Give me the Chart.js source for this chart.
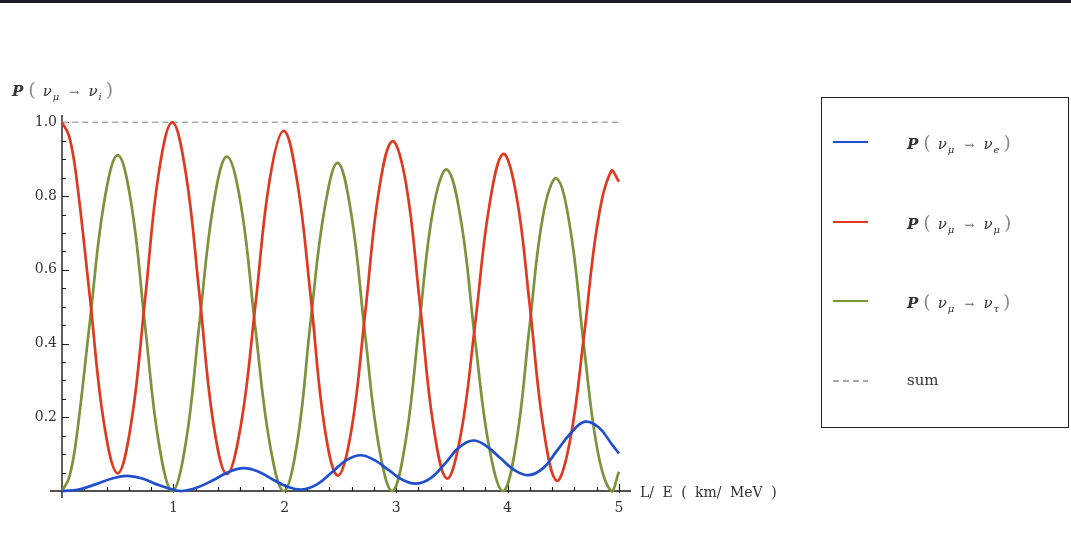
<!DOCTYPE html>
<html lang="en">
<head>
    <meta charset="utf-8">
    <script src="https://cdn.jsdelivr.net/npm/chart.js"></script>
    <title>Neutrino oscillation</title>
    <style>
        html, body {
            margin: 0;
            padding: 0;
            background: #fff;
        }
        .wrap {
            position: relative;
            width: 1071px;
            height: 539px;
            overflow: hidden;
            font-family: 'DejaVu Serif', 'Liberation Serif', serif;
            color: #333;
        }
        .band {
            position: absolute;
            left: 0; top: 0;
            width: 100%;
            height: 3px;
            background: #1c1b2e;
        }
        canvas { position: absolute; left: 0; top: 0; }
        .formula { white-space: nowrap; font-size: 15px; }
        .formula .P { font-style: italic; font-weight: bold; }
        .formula .par { color: #888; font-size: 19px; font-weight: 300; }
        .formula .po { margin-left: 5px; margin-right: 7px; }
        .formula .pc { margin-left: 4px; }
        .formula .nu { font-style: italic; }
        .formula sub { font-size: 10px; font-style: italic; vertical-align: -4px; line-height: 0; margin-left: 1px; }
        .formula .arr { color: #666; font-size: 12px; margin: 0 9px 0 10px; }
        .ytitle {
            position: absolute;
            left: 12px; top: 78px;
        }
        .xtitle {
            position: absolute;
            left: 640px; top: 484px;
            font-size: 14px;
            word-spacing: 4px;
            white-space: nowrap;
        }
        .legend {
            position: absolute;
            left: 821px; top: 97px;
            width: 246px; height: 329px;
            border: 1.3px solid #222;
        }
        .item {
            position: absolute;
            left: 0;
            height: 20px;
            width: 100%;
        }
        .swatch {
            position: absolute;
            left: 11px; top: 10px;
            width: 35px;
        }
        .item .lbl {
            position: absolute;
            left: 85px; top: 0px;
        }
        .item .plain { font-size: 15px; white-space: nowrap; top: 1px; }
    </style>
</head>
<body>
<div class="wrap">
    <canvas id="oscChart" width="1071" height="539"></canvas>
    <div class="band"></div>
    <div class="ytitle formula" id="ytitle"></div>
    <div class="xtitle">L/ E ( km/ MeV )</div>
    <div class="legend" id="legend"></div>
</div>

<script>
    // L/E values where the mu->mu and mu->tau curves were read
    const xOsc = [0, 0.0625, 0.125, 0.25, 0.375, 0.5, 0.6225, 0.745, 0.8675, 0.99, 1.1125, 1.235, 1.3575,
        1.48, 1.6075, 1.735, 1.8625, 1.99, 2.111, 2.2325, 2.354, 2.475, 2.5975, 2.72, 2.8425,
        2.965, 3.0875, 3.21, 3.3325, 3.455, 3.581, 3.7075, 3.834, 3.96, 4.08, 4.2, 4.32,
        4.44, 4.5625, 4.685, 4.8075, 4.93, 5.0];

    const pMuMu = [1.0, 0.964, 0.861, 0.527, 0.187, 0.048, 0.187, 0.518, 0.861, 1.0, 0.860, 0.529, 0.186,
        0.046, 0.182, 0.501, 0.841, 0.977, 0.840, 0.527, 0.179, 0.042, 0.165, 0.478, 0.810,
        0.949, 0.835, 0.517, 0.180, 0.034, 0.155, 0.450, 0.770, 0.914, 0.800, 0.501, 0.175,
        0.028, 0.140, 0.418, 0.725, 0.868, 0.839];

    const pMuTau = [0, 0.035, 0.133, 0.459, 0.778, 0.911, 0.778, 0.450, 0.133, 0, 0.133, 0.459, 0.774,
        0.907, 0.774, 0.443, 0.133, 0, 0.130, 0.462, 0.760, 0.890, 0.750, 0.427, 0.125,
        0, 0.140, 0.461, 0.765, 0.872, 0.735, 0.412, 0.120, 0, 0.135, 0.454, 0.750,
        0.848, 0.712, 0.394, 0.110, 0, 0.052];

    // mu->e curve read separately (slower oscillation)
    const xE = [0, 0.15, 0.3, 0.45, 0.58, 0.72, 0.85, 0.98, 1.08, 1.22, 1.36, 1.5, 1.63, 1.76,
        1.9, 2.02, 2.15, 2.29, 2.42, 2.55, 2.68, 2.81, 2.94, 3.06, 3.18, 3.31, 3.44, 3.56,
        3.69, 3.81, 3.94, 4.06, 4.19, 4.32, 4.44, 4.57, 4.695, 4.82, 4.94, 5.0];

    const pMuE = [0, 0.004, 0.018, 0.034, 0.041, 0.034, 0.018, 0.005, 0.0, 0.010, 0.030, 0.052,
        0.062, 0.053, 0.030, 0.012, 0.004, 0.018, 0.050, 0.083, 0.097, 0.083, 0.055, 0.030,
        0.020, 0.035, 0.075, 0.117, 0.137, 0.122, 0.088, 0.057, 0.043, 0.062, 0.108, 0.158,
        0.188, 0.172, 0.125, 0.102];

    const xSum = [0, 5];
    const pSum = [1, 1];

    const xTicks = [1, 2, 3, 4, 5];
    const yTicks = [0.2, 0.4, 0.6, 0.8, 1.0];

    // final flavour subscript for each legend entry, null = plain text
    const legendSubs = ['e', 'μ', 'τ', null];

    function formula(sub) {
        return '<span class="P">P</span><span class="par po">(</span><span class="nu">ν</span><sub>μ</sub>' +
            '<span class="arr">→</span><span class="nu">ν</span><sub>' + sub + '</sub><span class="par pc">)</span>';
    }
    document.getElementById('ytitle').innerHTML = formula('i');

    function pts(xs, ys) {
        return xs.map((x, i) => ({x: x, y: ys[i]}));
    }

    function lineSet(label, xs, ys, color) {
        return {
            label: label,
            data: pts(xs, ys),
            borderColor: color,
            backgroundColor: color,
            borderWidth: 2.7,
            pointRadius: 0,
            fill: false,
            tension: 0.4,
            clip: false
        };
    }

    // axis lines and inward tick marks, Mathematica style
    const axesPlugin = {
        id: 'axesPlugin',
        beforeDatasetsDraw(chart) {
            const ctx = chart.ctx;
            const xs = chart.scales.x, ys = chart.scales.y;
            const x0 = xs.getPixelForValue(0), y0 = ys.getPixelForValue(0);
            ctx.save();
            ctx.strokeStyle = '#1a1a1a';
            ctx.lineWidth = 1.4;
            ctx.beginPath();
            // x axis reaches a little left of the y axis
            ctx.moveTo(xs.getPixelForValue(-0.108), y0); ctx.lineTo(xs.right, y0);
            ctx.moveTo(x0, ys.bottom); ctx.lineTo(x0, ys.top);
            ctx.stroke();
            ctx.lineWidth = 1.1;
            ctx.beginPath();
            for (let i = 1; i <= 25; i++) {
                const v = i * 0.2;
                const px = Math.round(xs.getPixelForValue(v)) + 0.5;
                const major = i % 5 === 0;
                ctx.moveTo(px, y0 + (major ? 2 : 0));
                ctx.lineTo(px, y0 - (major ? 7 : 4));
            }
            for (let i = 1; i <= 20; i++) {
                const v = i * 0.05;
                const py = Math.round(ys.getPixelForValue(v)) + 0.5;
                const major = i % 4 === 0;
                ctx.moveTo(x0, py);
                ctx.lineTo(x0 + (major ? 7 : 4), py);
            }
            ctx.stroke();
            ctx.restore();
        }
    };

    const tickFont = {family: "'DejaVu Serif', 'Liberation Serif', serif", size: 14};

    const ctx = document.getElementById('oscChart').getContext('2d');
    const oscChart = new Chart(ctx, {
        type: 'line',
        data: {
            datasets: [
                lineSet('P(νμ → νe)', xE, pMuE, '#1f4fcc'),
                lineSet('P(νμ → νμ)', xOsc, pMuMu, '#e0391f'),
                lineSet('P(νμ → ντ)', xOsc, pMuTau, '#7b933a'),
                Object.assign(lineSet('sum', xSum, pSum, '#a9a9a9'), {borderWidth: 1.5, borderDash: [6, 4]})
            ]
        },
        options: {
            responsive: false,
            animation: false,
            layout: {padding: {left: 18, right: 440, top: 115, bottom: 16}},
            plugins: {
                legend: {display: false},
                tooltip: {enabled: false}
            },
            scales: {
                x: {
                    type: 'linear',
                    min: -0.036,
                    max: 5.108,
                    grid: {display: false, drawTicks: false, tickLength: 0},
                    border: {display: false},
                    afterBuildTicks: s => { s.ticks = xTicks.map(v => ({value: v})); },
                    afterFit: s => { s.height = 25; },
                    ticks: {font: tickFont, color: '#333', padding: 2, maxRotation: 0, autoSkip: false,
                        callback: v => String(v)}
                },
                y: {
                    type: 'linear',
                    min: -0.019,
                    max: 1.02,
                    grid: {display: false, drawTicks: false, tickLength: 0},
                    border: {display: false},
                    afterBuildTicks: s => { s.ticks = yTicks.map(v => ({value: v})); },
                    afterFit: s => { s.width = 40; },
                    ticks: {font: tickFont, color: '#333', padding: 1, autoSkip: false,
                        callback: v => v.toFixed(1)}
                }
            }
        },
        plugins: [axesPlugin]
    });

    // html legend built from the datasets
    const legendBox = document.getElementById('legend');
    const rowTops = [33, 113, 192, 272];
    oscChart.data.datasets.forEach((ds, i) => {
        const row = document.createElement('div');
        row.className = 'item';
        row.style.top = rowTops[i] + 'px';
        const sw = document.createElement('div');
        sw.className = 'swatch';
        if (ds.borderDash) {
            sw.style.height = '1.6px';
            sw.style.background = 'repeating-linear-gradient(90deg, ' + ds.borderColor + ' 0 6px, transparent 6px 10px)';
        } else {
            sw.style.height = '2.7px';
            sw.style.marginTop = '-0.5px';
            sw.style.background = ds.borderColor;
        }
        row.appendChild(sw);
        const lbl = document.createElement('div');
        if (legendSubs[i]) {
            lbl.className = 'lbl formula';
            lbl.innerHTML = formula(legendSubs[i]);
        } else {
            lbl.className = 'lbl plain';
            lbl.textContent = ds.label;
        }
        row.appendChild(lbl);
        legendBox.appendChild(row);
    });
</script>
</body>
</html>
